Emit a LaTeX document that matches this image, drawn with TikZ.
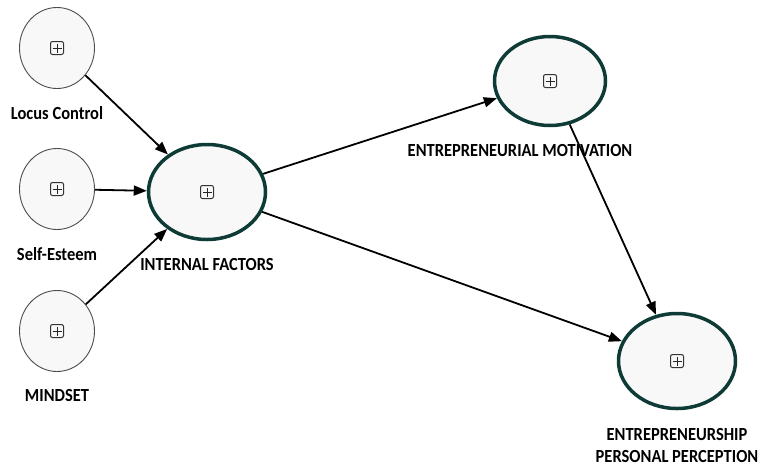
\documentclass[tikz,border=0pt]{standalone}
\usepackage{fontspec}
\usepackage{graphicx}
\setmainfont{Carlito}
\usetikzlibrary{arrows.meta, positioning, shapes.geometric}
\definecolor{ringteal}{HTML}{0F3B36}
\definecolor{shapefill}{HTML}{F8F8F8}
\newcommand{\tallword}[1]{\scalebox{1}[1.12]{#1}}
\tikzset{
  plusmark/.style={path picture={
      \draw[line width=1pt, rounded corners=2pt, black!80]
        ([shift={(-6.5pt,-6.5pt)}]path picture bounding box.center) rectangle ++(13pt,13pt);
      \draw[line width=1pt, black!85]
        ([xshift=-4.5pt]path picture bounding box.center) -- ++(9pt,0pt)
        ([yshift=-4.5pt]path picture bounding box.center) -- ++(0pt,9pt);
    }},
  indicator/.style={ellipse, draw=black!70, line width=0.9pt, fill=shapefill,
    minimum width=75pt, minimum height=81pt, plusmark},
  construct/.style={ellipse, draw=ringteal, line width=3.5pt, fill=shapefill,
    minimum width=117pt, minimum height=95pt, plusmark},
  lbl/.style={font=\bfseries\fontsize{16.5}{22}\selectfont, inner sep=0pt, align=center},
  link/.style={-{Triangle[length=13pt,width=10pt]}, line width=1.8pt}
}
\begin{document}
\begin{tikzpicture}[x=1pt, y=-1pt] % 1 unit = 1 px of the reference
  \useasboundingbox (0,0) rectangle (760,467);
  % indicators
  \node[indicator] (locus) at (57,48) {};
  \node[indicator] (esteem) at (57,189) {};
  \node[indicator] (mindset) at (57,331) {};
  % constructs
  \node[construct] (internal) at (207,192) {};
  \node[construct, minimum width=111pt, minimum height=89pt] (motiv) at (550,81) {};
  \node[construct] (percep) at (677,361) {};
  % labels
  \node[lbl, below=17pt of locus] (locuslbl) {\tallword{Locus Control}};
  \node[lbl, below=17pt of esteem] (esteemlbl) {\tallword{Self-Esteem}};
  \node[lbl, below=17pt of mindset] (mindsetlbl) {\tallword{MINDSET}};
  \node[lbl, below=17pt of internal] (internallbl) {\tallword{INTERNAL FACTORS}};
  \node[lbl, below=17pt of motiv, xshift=-30pt] (motivlbl) {\tallword{ENTREPRENEURIAL MOTIVATION}};
  \node[lbl, below=18pt of percep] (perceplbl) {\tallword{ENTREPRENEURSHIP}\\\tallword{PERSONAL PERCEPTION}};
  % paths
  \draw[link] (locus) -- (internal);
  \draw[link] (esteem) -- (internal);
  \draw[link] (mindset) -- (internal);
  \draw[link] (internal) -- (motiv);
  \draw[link] (internal) -- (percep);
  \draw[link] (motiv) -- (percep);
\end{tikzpicture}
\end{document}
